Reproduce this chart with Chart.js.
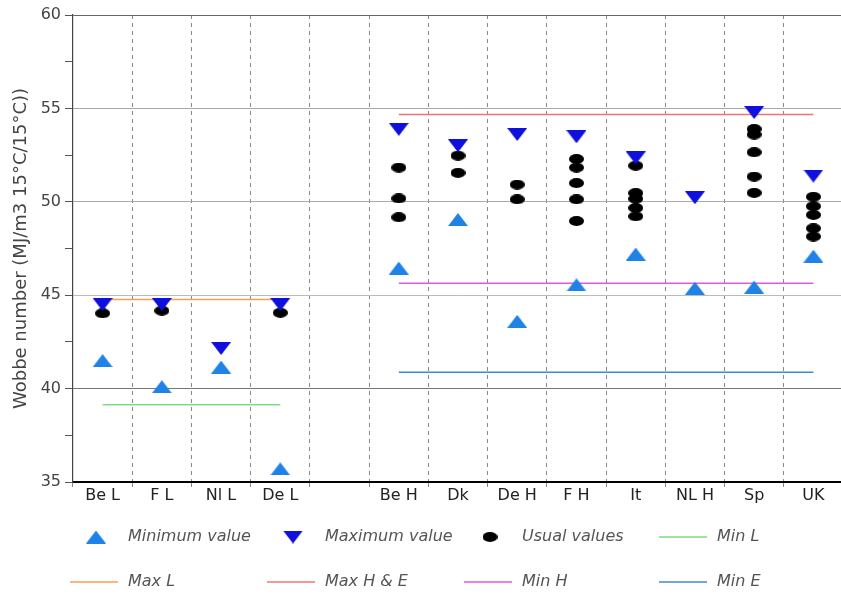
<!DOCTYPE html>
<html>
<head>
<meta charset="utf-8">
<script src="https://cdn.jsdelivr.net/npm/chart.js@4"></script>
<style>
  html, body { margin: 0; padding: 0; background: #fff; overflow: hidden; }
  #wrap { width: 850px; height: 597px; }
</style>
</head>
<body>
<div id="wrap"><canvas id="chart" width="850" height="597"></canvas></div>
<script>
// Data
const categories = ["Be L", "F L", "Nl L", "De L", "", "Be H", "Dk", "De H", "F H", "It", "NL H", "Sp", "UK"];
const minValues = [41.5, 40.1, 41.15, 35.7, null, 46.45, 49.05, 43.6, 45.55, 47.2, 45.37, 45.43, 47.09];
const maxValues = [44.5, 44.5, 42.15, 44.5, null, 53.88, 53.0, 53.6, 53.48, 52.35, 50.22, 54.78, 51.38];
const usualValues = [
  [44.03], [44.17], [], [44.06], [],
  [51.83, 50.18, 49.17],
  [52.47, 51.55],
  [50.92, 50.13],
  [52.29, 51.83, 51.0, 50.13, 48.97],
  [51.93, 50.47, 50.16, 49.67, 49.22],
  [],
  [53.9, 53.6, 52.65, 51.35, 50.48],
  [50.27, 49.76, 49.3, 48.58, 48.14],
];
const limitNames = ["Min L", "Max L", "Max H & E", "Min H", "Min E"];
const limitValues = [39.14, 44.77, 54.68, 45.64, 40.87];
const limitFrom = ["Be L", "Be L", "Be H", "Be H", "Be H"];
const limitTo = ["De L", "De L", "UK", "UK", "UK"];
const limitColors = ["#7fdc7f", "#f5a04e", "#f07676", "#e05ae0", "#3d8bd2"];
const yTitle = "Wobbe number (MJ/m3 15°C/15°C))";

const fontFamily = '"DejaVu Sans", sans-serif';

function makeTriangle(color, up) {
  const c = document.createElement("canvas");
  c.width = 20;
  c.height = 13;
  const g = c.getContext("2d");
  g.fillStyle = color;
  g.beginPath();
  if (up) {
    g.moveTo(10, 0); g.lineTo(20, 13); g.lineTo(0, 13);
  } else {
    g.moveTo(0, 0); g.lineTo(20, 0); g.lineTo(10, 13);
  }
  g.closePath();
  g.fill();
  return c;
}

function makeDot(color) {
  const c = document.createElement("canvas");
  c.width = 15;
  c.height = 10;
  const g = c.getContext("2d");
  g.fillStyle = color;
  g.beginPath();
  g.ellipse(7.5, 5, 7.5, 5, 0, 0, Math.PI * 2);
  g.fill();
  return c;
}

const minImg = makeTriangle("#1e82e6", true);
const maxImg = makeTriangle("#1010dc", false);
const dotImg = makeDot("#000");

// usual values -> {x, y} points
const usualPoints = [];
usualValues.forEach((list, i) => {
  list.forEach((v) => usualPoints.push({ x: categories[i], y: v }));
});

const markerSet = (label, data, img) => ({
  label: label,
  data: data,
  showLine: false,
  pointStyle: img,
  pointRadius: 6,
  pointHoverRadius: 6,
});

const datasets = [
  markerSet("Minimum value", minValues, minImg),
  markerSet("Maximum value", maxValues, maxImg),
  markerSet("Usual values", usualPoints, dotImg),
];
limitNames.forEach((name, i) => {
  datasets.push({
    label: name,
    data: [
      { x: limitFrom[i], y: limitValues[i] },
      { x: limitTo[i], y: limitValues[i] },
    ],
    borderColor: limitColors[i],
    borderWidth: 1.5,
    pointRadius: 0,
    showLine: true,
  });
});

// legend in a fixed 4-column grid under the plot
const gridLegend = {
  id: "gridLegend",
  afterDraw(chart) {
    const ctx = chart.ctx;
    const textX = [128, 325, 522, 717];
    const rowY = [537, 582];
    chart.data.datasets.forEach((ds, i) => {
      const tx = textX[i % 4];
      const y = rowY[Math.floor(i / 4)];
      ctx.save();
      if (ds.showLine === false) {
        const img = ds.pointStyle;
        ctx.drawImage(img, tx - 32 - img.width / 2, y - img.height / 2);
      } else {
        ctx.strokeStyle = ds.borderColor;
        ctx.lineWidth = 1.5;
        ctx.beginPath();
        ctx.moveTo(tx - 58, y);
        ctx.lineTo(tx - 10, y);
        ctx.stroke();
      }
      ctx.font = "italic 16px " + fontFamily;
      ctx.fillStyle = "#555";
      ctx.textBaseline = "middle";
      ctx.fillText(ds.label, tx, y);
      ctx.restore();
    });
  },
};

const hGridColor = { 60: "#666", 55: "#aaa", 50: "#aaa", 45: "#bbb", 40: "#777" };

new Chart(document.getElementById("chart"), {
  type: "line",
  data: { labels: categories, datasets: datasets },
  plugins: [gridLegend],
  options: {
    responsive: false,
    animation: false,
    layout: { padding: { top: 15, right: 3, bottom: 90, left: 0 } },
    plugins: {
      legend: { display: false },
      tooltip: { enabled: false },
    },
    scales: {
      x: {
        type: "category",
        offset: true,
        afterFit: (scale) => { scale.height = 25; },
        grid: {
          offset: true,
          color: (ctx) => (ctx.index === 0 ? "rgba(0,0,0,0)" : "#888"),
          lineWidth: 1,
          tickLength: 8,
          tickColor: "#888",
          tickBorderDash: [4, 4],
        },
        border: { color: "#000", width: 2, dash: [4, 4] },
        ticks: {
          color: "#222",
          padding: -4,
          maxRotation: 0,
          autoSkip: false,
          font: { family: fontFamily, size: 16 },
        },
      },
      y: {
        min: 35,
        max: 60,
        afterFit: (scale) => { scale.width = 73; },
        grid: {
          color: (ctx) => hGridColor[ctx.tick.value] || "rgba(0,0,0,0)",
          tickColor: "#555",
          tickLength: 8,
        },
        border: { color: "#444", width: 1.2, z: 1 },
        ticks: {
          stepSize: 2.5,
          color: "#444",
          padding: 4,
          font: { family: fontFamily, size: 16 },
          callback: (v) => (v % 5 === 0 ? v : ""),
        },
        title: {
          display: true,
          text: yTitle,
          color: "#444",
          padding: { top: 11, bottom: 0 },
          font: { family: fontFamily, size: 18 },
        },
      },
    },
  },
});
</script>
</body>
</html>
